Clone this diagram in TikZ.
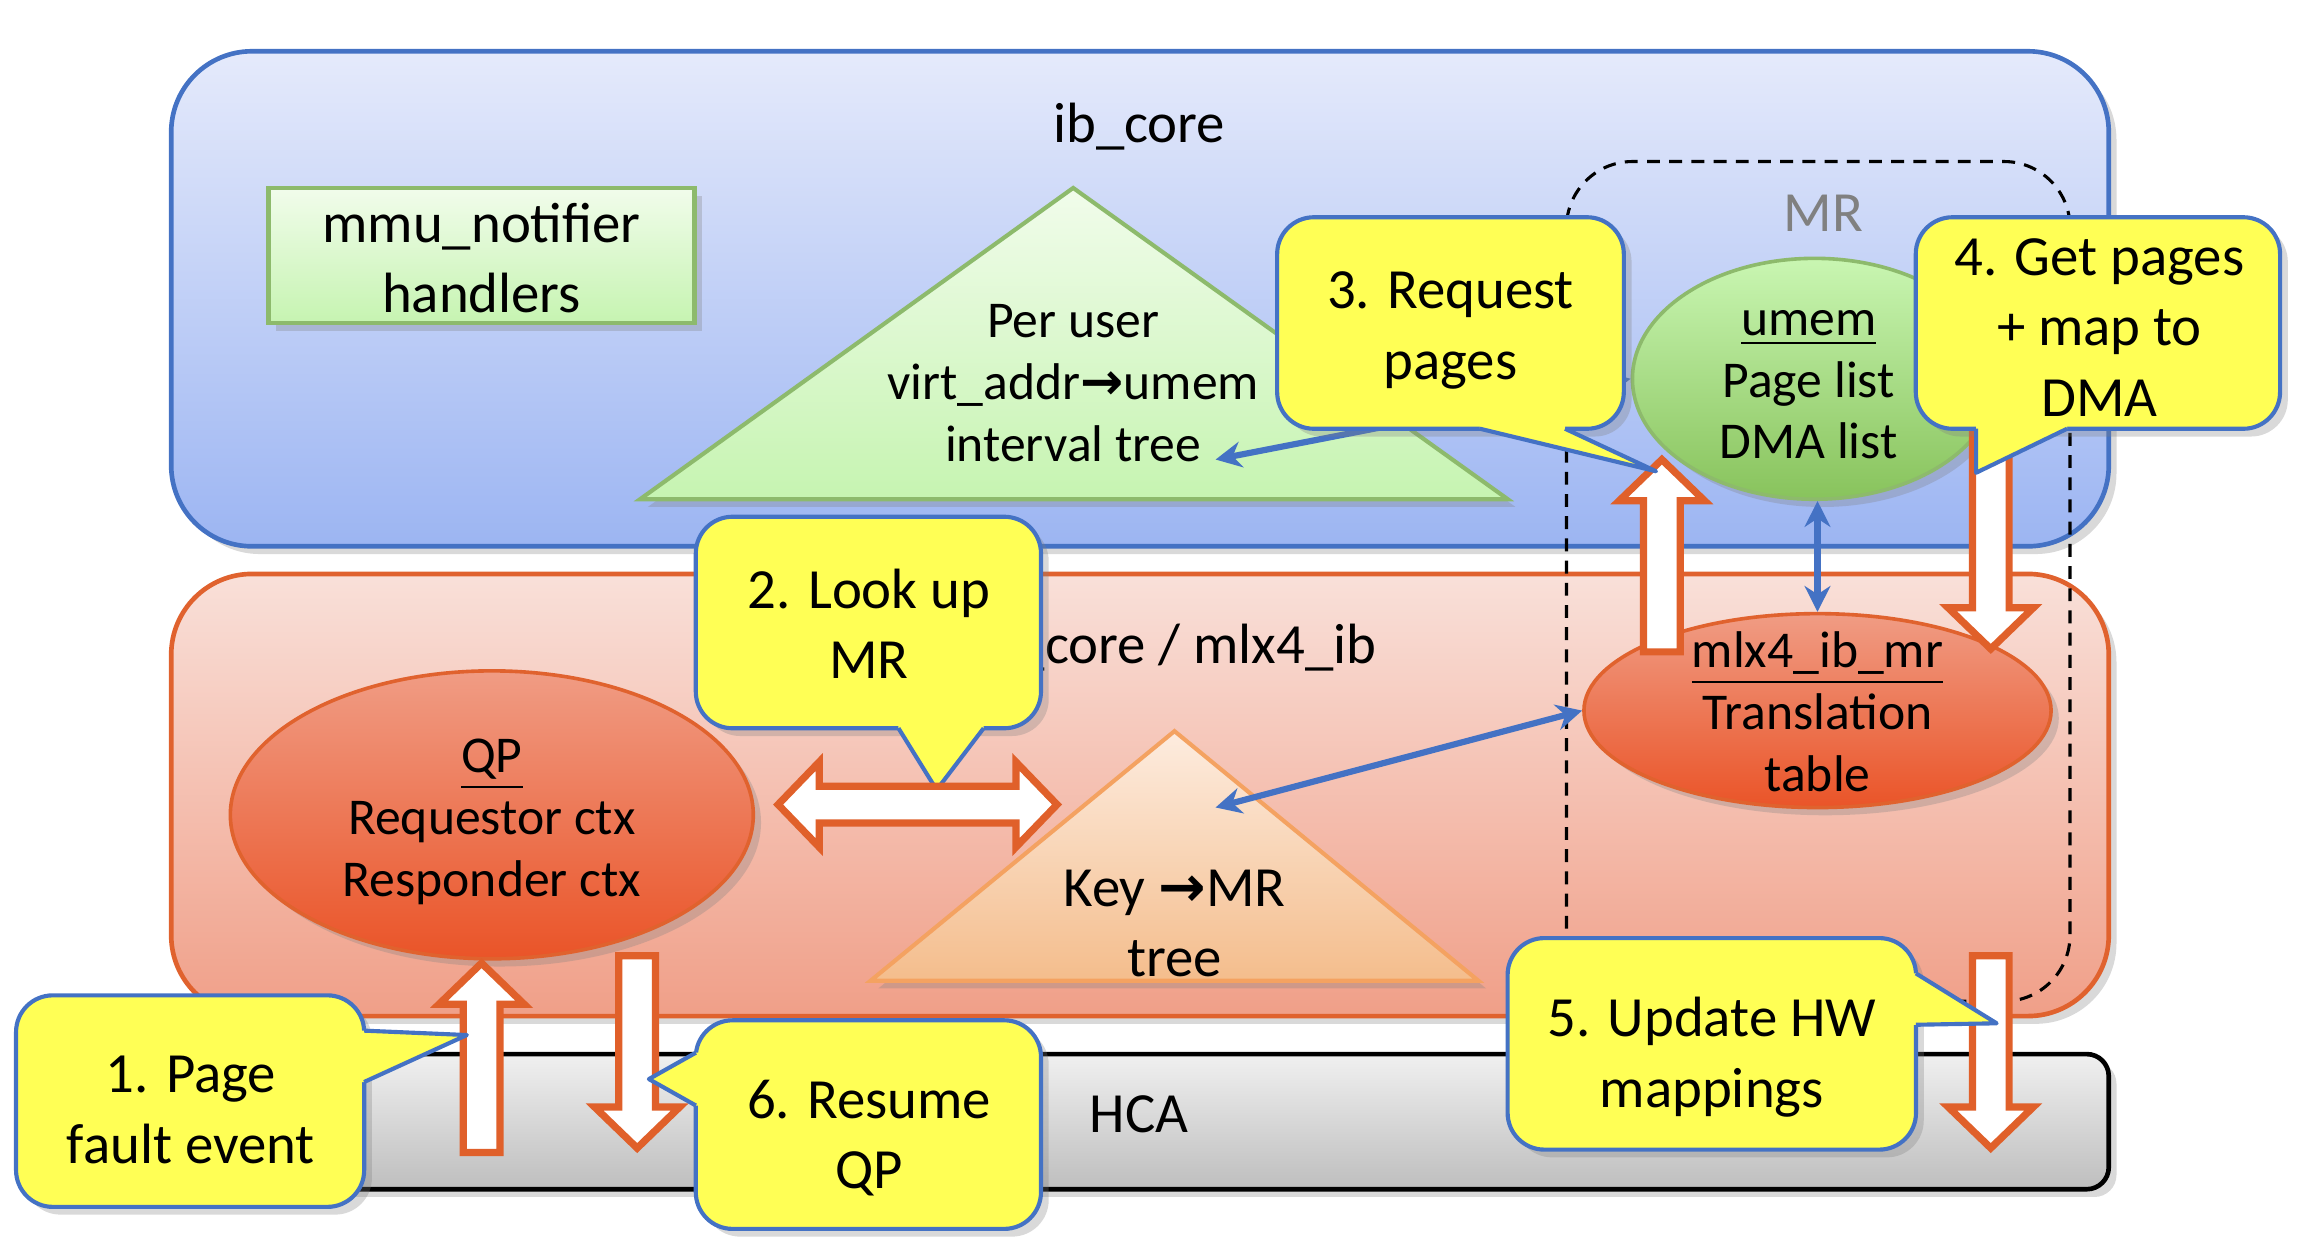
\documentclass[tikz,border=0pt]{standalone}
\usepackage{fontspec}
\setmainfont{Carlito}
\newfontfamily\arrowfont{DejaVu Sans}
\usetikzlibrary{shapes,arrows.meta,shadows}

\definecolor{coreline}{HTML}{4472C4}
\definecolor{coretop}{HTML}{E5EAFB}
\definecolor{corebot}{HTML}{9CB5F2}
\definecolor{mlxline}{HTML}{E0622E}
\definecolor{mlxtop}{HTML}{F9E0D9}
\definecolor{mlxbot}{HTML}{F09F88}
\definecolor{hcatop}{HTML}{F0F0F0}
\definecolor{hcabot}{HTML}{BEBEBE}
\definecolor{leafline}{HTML}{8DBA6C}
\definecolor{leaftop}{HTML}{F1FCEB}
\definecolor{leafbot}{HTML}{C6F4B1}
\definecolor{umemtop}{HTML}{C9F6B2}
\definecolor{umembot}{HTML}{88C35C}
\definecolor{ovaltop}{HTML}{F09C84}
\definecolor{ovalbot}{HTML}{EA5428}
\definecolor{keyline}{HTML}{F4A261}
\definecolor{keytop}{HTML}{FDECDF}
\definecolor{keybot}{HTML}{F4BD8C}
\definecolor{noteyellow}{HTML}{FFFF55}
\definecolor{blockline}{HTML}{E0602A}

\tikzset{
  bigtext/.style={font=\fontsize{11}{13.6}\selectfont},
  smalltext/.style={font=\fontsize{10}{12}\selectfont},
  softshadow/.style={drop shadow={opacity=0.3, shadow xshift=1.5pt, shadow yshift=-1.5pt}},
  layer/.style={line width=0.9pt, minimum width=13.19cm, softshadow},
  leafbox/.style={draw=leafline, top color=leaftop, bottom color=leafbot, line width=0.8pt, inner sep=0pt, softshadow},
  oval/.style={ellipse, draw=mlxline, top color=ovaltop, bottom color=ovalbot, line width=0.7pt, inner sep=0pt, softshadow},
  note/.style={draw=coreline, fill=noteyellow, line width=0.8pt, rounded corners=0.25cm, inner sep=0pt, softshadow},
  notetext/.style={bigtext, align=center},
  link/.style={draw=coreline, line width=1.2pt, <->, >={Stealth[length=5pt,width=5pt]}},
  blockarrow/.style={fill=white, draw=blockline, line width=1.4pt, line join=miter},
}
\newcommand{\rarr}{{\arrowfont\bfseries →}}

\begin{document}
\begin{tikzpicture}[x=0.01cm, y=-0.01cm]
  % Sizes
  \pgfmathsetmacro{\shaft}{12.5}
  \pgfmathsetmacro{\head}{29}
  \pgfmathsetmacro{\headlen}{28}
  \useasboundingbox (0,0) rectangle (1568,850);

  % layers
  \node[layer, draw=coreline, top color=coretop, bottom color=corebot, minimum height=3.37cm, rounded corners=0.55cm] (ibcore) at (776.5,203.5) {};
  \node[layer, draw=mlxline, top color=mlxtop, bottom color=mlxbot, minimum height=3.01cm, rounded corners=0.55cm] (mlx) at (776.5,541.5) {};
  \node[layer, draw=black, top color=hcatop, bottom color=hcabot, minimum height=0.92cm, rounded corners=0.15cm] (hca) at (776.5,764) {};
  \node[bigtext] (ibcorelbl) at (776,86) {ib\_core};
  \node[bigtext] (mlxlbl) at (777,441) {mlx4\_core / mlx4\_ib};
  \node[bigtext] (hcalbl) at (776,759) {HCA};

  % MR region
  \draw[dash pattern=on 2.5pt off 1.8pt, line width=0.6pt, rounded corners=0.45cm] (1067,110) rectangle (1410,682);
  \node[bigtext, text=gray] (mrlbl) at (1242,145) {MR};

  % ib_core contents
  \node[leafbox, minimum width=2.9cm, minimum height=0.92cm] (mmu) at (328,174) {};
  \node[notetext] (mmutxt) at (328,176) {mmu\_notifier\\handlers};
  \draw[draw=leafline, line width=0.8pt, top color=leaftop, bottom color=leafbot, softshadow] (436,340) -- (731,128) -- (1027,340) -- cycle;
  \node[smalltext, align=center] (ivtree) at (731,261) {Per user\\virt\_addr\rarr umem\\interval tree};
  \node[ellipse, draw=leafline, top color=umemtop, bottom color=umembot, line width=0.7pt, inner sep=0pt, softshadow, minimum width=2.48cm, minimum height=1.64cm] (umem) at (1236,258) {};
  \node[smalltext, align=center] (umemtxt) at (1232,262) {\underline{umem}\\Page list\\DMA list};

  % mlx4 contents
  \draw[draw=keyline, line width=0.8pt, top color=keytop, bottom color=keybot, softshadow] (593,668) -- (800,498) -- (1007,668) -- cycle;
  \node[notetext] (keytree) at (800,629) {Key \rarr MR\\tree};
  \node[oval, minimum width=3.56cm, minimum height=1.96cm] (qp) at (335,555) {};
  \node[smalltext, align=center] (qptxt) at (335,560) {\underline{QP}\\Requestor ctx\\Responder ctx};
  \node[oval, minimum width=3.18cm, minimum height=1.32cm] (mr) at (1238,484) {};
  \node[smalltext, align=center] (mrtxt) at (1238,485) {\underline{mlx4\_ib\_mr}\\Translation\\table};

  % links
  \coordinate (ivend) at (828,313);
  \coordinate (keyend) at (828,550);
  \draw[link] (umem.west) -- (ivend);
  \draw[link] (mr.north |- umem.south) -- (mr.north);
  \draw[link] (mr.west) -- (keyend);

  % block arrows
  \foreach \xa/\ys/\ye in {328/785/656, 434/651/782, 1132/444/313, 1356/285/442, 1356/651/782}{
    \pgfmathsetmacro{\yb}{\ye-\headlen*((\ye>\ys)*2-1)}
    \draw[blockarrow] (\xa-\shaft,\ys) -- (\xa-\shaft,\yb) -- (\xa-\head,\yb) -- (\xa,\ye)
      -- (\xa+\head,\yb) -- (\xa+\shaft,\yb) -- (\xa+\shaft,\ys) -- cycle;
  }

  % callouts
  \node[note, minimum width=2.37cm, minimum height=1.44cm] (note1) at (129.5,750) {};
  \node[note, minimum width=2.35cm, minimum height=1.44cm] (note2) at (591.5,424) {};
  \node[note, minimum width=2.36cm, minimum height=1.44cm] (note3) at (988,220) {};
  \node[note, minimum width=2.48cm, minimum height=1.44cm] (note4) at (1429,220) {};
  \node[note, minimum width=2.78cm, minimum height=1.44cm] (note5) at (1166,711) {};
  \node[note, minimum width=2.35cm, minimum height=1.42cm] (note6) at (591.5,766) {};
  \foreach \ax/\ay/\tx/\ty/\bx/\by/\dx/\dy in {248/702/318/705/248/737/-3/0, 612/496/638/538/670/496/0/-3,
      1008/292/1128/321/1066/292/0/-3, 1346/292/1346/322/1408/292/0/-3,
      1305/663/1360/697/1305/698/-3/0, 474/717/442/735/474/753/3/0}{
    \fill[noteyellow] (\ax+\dx,\ay+\dy) -- (\ax,\ay) -- (\tx,\ty) -- (\bx,\by) -- (\bx+\dx,\by+\dy) -- cycle;
    \draw[coreline, line width=0.8pt, line join=round] (\ax,\ay) -- (\tx,\ty) -- (\bx,\by);
  }
  \node[notetext] (note1txt) at (130,756) {1. Page\\fault event};
  \node[notetext] (note2txt) at (592,425) {2. Look up\\MR};
  \node[notetext] (note3txt) at (988,225) {3. Request\\pages};
  \node[notetext] (note4txt) at (1430,223) {4. Get pages\\+ map to\\DMA};
  \node[notetext] (note5txt) at (1166,720) {5. Update HW\\mappings};
  \node[notetext] (note6txt) at (592,775) {6. Resume\\QP};

  % QP <-> key tree
  \draw[blockarrow] (530,548) -- (558,548-\head) -- (558,548-\shaft) -- (692,548-\shaft) -- (692,548-\head)
    -- (720,548) -- (692,548+\head) -- (692,548+\shaft) -- (558,548+\shaft) -- (558,548+\head) -- cycle;
\end{tikzpicture}
\end{document}
